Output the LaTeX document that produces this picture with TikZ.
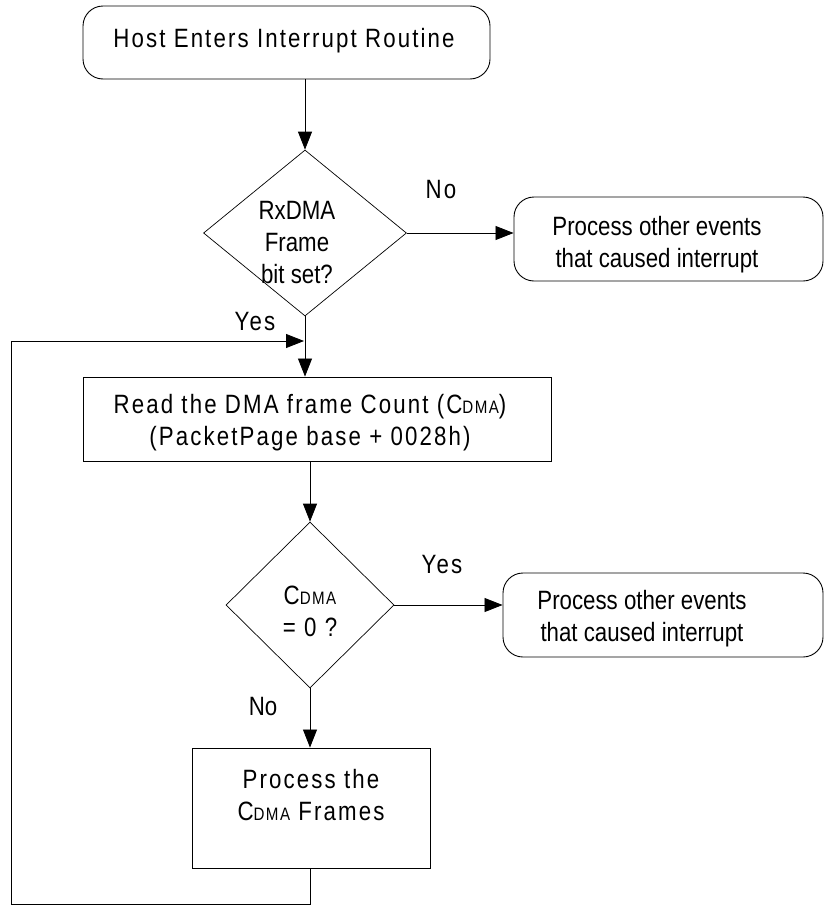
\documentclass[tikz,border=0pt]{standalone}
\usepackage{fontspec}
\setmainfont{Liberation Sans}
\newfontfamily\narrowfont[FakeStretch=0.84]{Liberation Sans}
\newfontfamily\spacedfont[FakeStretch=0.84,LetterSpace=8]{Liberation Sans}
\usetikzlibrary{shapes.geometric,arrows.meta}
\newcommand\cdmatext{C{\fontsize{18}{20}\selectfont DMA}}
\begin{document}
\begin{tikzpicture}[x=1pt,y=-1pt,
  box/.style={draw, line width=0.9pt, inner sep=0pt},
  rbox/.style={box, rounded corners=20pt},
  dia/.style={draw, diamond, line width=0.7pt, inner sep=0pt},
  txt/.style={font=\fontsize{26.5}{32}\selectfont\narrowfont, align=center, inner sep=0pt},
  stxt/.style={font=\fontsize{26.5}{32}\selectfont\spacedfont, align=center, inner sep=0pt},
  flow/.style={line width=0.8pt, -{Triangle[length=18pt,width=14pt]}}]
\useasboundingbox (0,0) rectangle (825,905);
% shapes
\node[rbox, minimum width=407pt, minimum height=73pt] (start) at (286.5,42.5) {};
\node[dia, minimum width=203pt, minimum height=166pt] (d1) at (305,233) {};
\node[rbox, minimum width=309pt, minimum height=84pt] (r1) at (668.5,239) {};
\node[box, minimum width=468pt, minimum height=84pt] (read) at (317,419) {};
\node[dia, minimum width=168pt, minimum height=166pt] (d2) at (310,605) {};
\node[rbox, minimum width=320pt, minimum height=84pt] (r2) at (663,615) {};
\node[box, minimum width=238pt, minimum height=120pt] (proc) at (311,808) {};
% texts
\node[stxt] (startt) at (284,41) {Host Enters Interrupt Routine};
\node[txt] (d1t) at (297,243) {RxDMA\\Frame\\bit set?};
\node[stxt] (no1) at (441,190) {No};
\node[txt] (r1t) at (657,245) {Process other events\\that caused interrupt};
\node[stxt] (yes1) at (255,322) {Yes};
\node[stxt] (readt) at (310,423) {Read the DMA frame Count (\cdmatext)\\(PacketPage base + 0028h)};
\node[stxt] (d2t) at (310,611) {\cdmatext\\= 0 ?};
\node[stxt] (yes2) at (442,565) {Yes};
\node[txt] (r2t) at (642,619) {Process other events\\that caused interrupt};
\node[txt] (no2) at (263,707) {No};
\node[stxt] (proct) at (311,795) {Process the\\\cdmatext{} Frames};
% loop coordinates
\coordinate (lb) at (11,904);
\coordinate (lt) at (11,341);
\coordinate (join) at (304,341);
% connectors
\draw[flow] (start.south -| d1.north) -- (d1.north);
\draw[flow] (d1.east) -- (d1.east -| r1.west);
\draw[flow] (d1.south) -- (d1.south |- read.north);
\draw[flow] (read.south -| d2.north) -- (d2.north);
\draw[flow] (d2.east) -- (d2.east -| r2.west);
\draw[flow] (d2.south) -- (d2.south |- proc.north);
\draw[flow] (proc.south -| d2.south) |- (lb) -- (lt) -- (join);
\end{tikzpicture}
\end{document}
